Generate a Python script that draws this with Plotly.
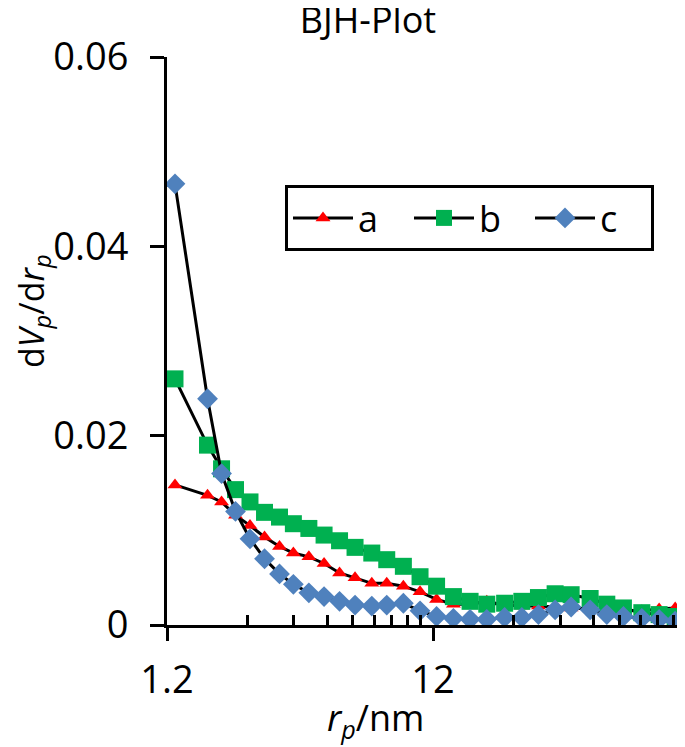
import plotly.graph_objects as go

# pore radius r_p / nm (shared by all three samples)
r_p = [1.286, 1.704, 1.924, 2.171, 2.461, 2.791, 3.177, 3.582, 4.096, 4.672,
       5.342, 6.108, 7.061, 8.036, 9.280, 10.72, 12.37, 14.31, 16.53, 19.10,
       22.29, 25.87, 29.87, 34.50, 39.63, 46.71, 53.97, 62.31, 73.07, 84.87, 97.51]

a_vals = [0.0148, 0.0137, 0.0130, 0.0116, 0.0105, 0.0093, 0.0083, 0.0076, 0.0072, 0.0065,
          0.0055, 0.0050, 0.0044, 0.0044, 0.0041, 0.0035, 0.0027, 0.0022, 0.0022, 0.0025,
          0.0021, 0.0020, 0.0020, 0.0019, 0.0018, 0.0017, 0.0016, 0.0015, 0.0015, 0.0017, 0.0018]

b_vals = [0.0260, 0.0190, 0.0165, 0.0143, 0.0130, 0.0119, 0.0114, 0.0107, 0.0102, 0.0095,
          0.0089, 0.0082, 0.0076, 0.0069, 0.0062, 0.0051, 0.0041, 0.0030, 0.0025, 0.0022,
          0.0023, 0.0025, 0.0029, 0.0033, 0.0032, 0.0028, 0.0022, 0.0018, 0.0013, 0.0011, 0.0009]

c_vals = [0.0466, 0.0239, 0.0160, 0.0120, 0.0091, 0.0070, 0.0054, 0.0043, 0.0034, 0.0030,
          0.0025, 0.0021, 0.0020, 0.0021, 0.0023, 0.0015, 0.0009, 0.0007, 0.0006, 0.0006,
          0.0008, 0.0008, 0.0011, 0.0016, 0.0019, 0.0016, 0.0011, 0.0009, 0.0007, 0.0006, 0.0004]

x_major = [1.2, 12]
x_major_text = ["1.2", "12"]
x_minor = [2.4, 3.6, 4.8, 6.0, 7.2, 8.4, 9.6, 10.8, 24, 36, 48, 60, 72, 84, 96, 108]
y_major = [0, 0.02, 0.04, 0.06]
y_major_text = ["0", "0.02", "0.04", "0.06"]

FONT = "Open Sans"

fig = go.Figure()
fig.add_trace(go.Scatter(x=r_p, y=a_vals, name="a", mode="lines+markers",
                         line=dict(color="black", width=3),
                         marker=dict(symbol="triangle-up", size=13, color="#FF0000")))
fig.add_trace(go.Scatter(x=r_p, y=b_vals, name="b", mode="lines+markers",
                         line=dict(color="black", width=3),
                         marker=dict(symbol="square", size=17, color="#00B050")))
fig.add_trace(go.Scatter(x=r_p, y=c_vals, name="c", mode="lines+markers",
                         line=dict(color="black", width=3),
                         marker=dict(symbol="diamond", size=16, color="#4F81BD")))

# page has an 8px body margin, so the figure is 8px smaller on each side
W, H = 677, 739
fig.update_layout(
    width=W, height=H,
    margin=dict(l=159, r=0, t=49, b=122),
    paper_bgcolor="white", plot_bgcolor="white",
    font=dict(family=FONT, size=38, color="black"),
    title=dict(text="BJH-Plot", x=360/W, xanchor="center", y=1-12/H, yanchor="middle",
               font=dict(family=FONT, size=36, color="black")),
    showlegend=True,
    legend=dict(orientation="h", x=(277-159)/518, y=(617-177)/568, xanchor="left", yanchor="top",
                bordercolor="black", borderwidth=3, bgcolor="white",
                font=dict(family=FONT, size=36, color="black"), itemwidth=60,
                entrywidth=46, entrywidthmode="pixels",
                traceorder="normal"),
    xaxis=dict(type="log", range=[0.0792, 2.026], showgrid=False, zeroline=False,
               showline=True, linecolor="black", linewidth=3,
               tickmode="array", tickvals=x_major, ticktext=x_major_text,
               ticks="outside", ticklen=13, tickwidth=3, tickcolor="black",
               ticklabelstandoff=6,
               tickfont=dict(family=FONT, size=38),
               minor=dict(tickmode="array", tickvals=x_minor, ticks="inside",
                          ticklen=10, tickwidth=3, tickcolor="black", showgrid=False)),
    yaxis=dict(range=[0, 0.06], showgrid=False, zeroline=False,
               showline=True, linecolor="black", linewidth=3,
               tickmode="array", tickvals=y_major, ticktext=y_major_text,
               ticks="outside", ticklen=14, tickwidth=3, tickcolor="black",
               ticklabelstandoff=14,
               tickfont=dict(family=FONT, size=38)),
    yaxis2=dict(range=[0, 0.06], overlaying="y", side="left", anchor="x",
                showgrid=False, zeroline=False, showline=False,
                tick0=0, dtick=0.004, ticks="inside", ticklen=9, tickwidth=3,
                tickcolor="black", showticklabels=False),
)

fig.add_annotation(text="<i>r</i><sub><i>p</i></sub>/nm", xref="paper", yref="paper",
                   x=(375-167)/518, y=(625-719)/568, xanchor="center", yanchor="middle",
                   showarrow=False, font=dict(family=FONT, size=36, color="black"))
fig.add_annotation(text="d<i>V</i><sub><i>p</i></sub>/d<i>r</i><sub><i>p</i></sub>",
                   xref="paper", yref="paper", textangle=-90,
                   x=(33-167)/518, y=(625-311)/568, xanchor="center", yanchor="middle",
                   showarrow=False, font=dict(family=FONT, size=34, color="black"))

fig.write_html("out.html")
